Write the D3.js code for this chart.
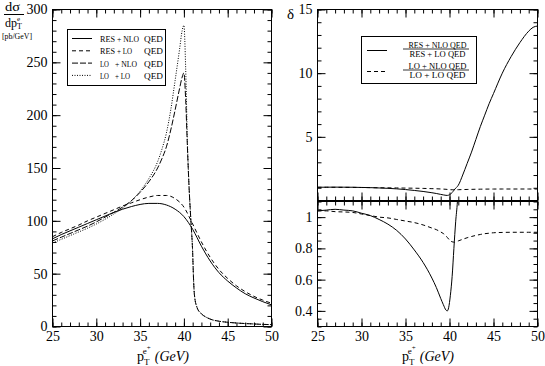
<!DOCTYPE html>
<html><head><meta charset="utf-8">
<script src="https://cdn.jsdelivr.net/npm/d3@7"></script>
<style>body{margin:0;background:#fff}svg{display:block}svg text{font-family:"Liberation Serif","Times New Roman",Times,"DejaVu Serif",serif !important;fill:#000}</style>
</head><body><svg id="c" width="545" height="366"></svg>
<script>
// ---- data ----
const ptRes = [25,26,27,28,29,30,31,32,33,34,35,36,37,38,39,40,41,42,43,44,45,46,47,48,49,50];
const resNLO = [83,87,90.5,94,97.5,101,104.5,108,111,113.5,115.5,116.5,116.5,115,111,104,92,76,62,51,43,36.5,31,27,23.5,20.5];
const resLO  = [85,89,92.5,96,100,103.5,107,110.5,114,117,120,122.5,124,124,121,113,97,80,65.5,54,45.5,38.5,33,28.5,25,22];
const ptLO = [25,26,27,28,29,30,31,32,33,34,35,36,37,37.5,38,38.5,39,39.5,39.8,40.0,40.2,40.4,40.6,40.8,41.0,41.1,41.2,41.5,42,42.5,43,44,45,46,47,48,49,50];
const loLO  = [79,82.5,86,89.5,93,97,101.5,106.5,112,119,128,140,156,168,183,205,233,262,280,285,245,175,130,100,70,45,30,18,12,9,7,5,4,3.3,2.8,2.4,2,1.8];
const loNLO = [81,84.5,88,91.5,95,99,103.5,108,113,119,127,137,150,159,170,186,205,225,236,240,215,170,130,100,70,45,30,18,12,9,7,5,4,3.3,2.8,2.4,2,1.8];
const ptRatio = [25,26,27,28,29,30,31,32,33,34,35,36,37,38,38.5,39,39.3,39.6,39.75,39.9,40.1,40.3,40.5,40.7,40.9,41,41.5,42,42.5,43,43.5,44,44.5,45,46,47,48,49,49.5,50];
const deltaRes = [1.04,1.045,1.05,1.045,1.04,1.025,1.01,0.985,0.955,0.915,0.86,0.79,0.71,0.61,0.55,0.48,0.44,0.405,0.40,0.42,0.5,0.62,0.8,0.97,1.1,1.2,2.0,2.9,3.8,4.8,5.8,6.7,7.6,8.4,10.0,11.3,12.4,13.3,13.6,13.7];
const deltaLO = [1.04,1.04,1.035,1.033,1.03,1.02,1.01,1.0,0.995,0.985,0.975,0.965,0.95,0.93,0.92,0.905,0.895,0.88,0.87,0.86,0.848,0.842,0.84,0.842,0.846,0.848,0.858,0.868,0.876,0.883,0.889,0.894,0.897,0.9,0.902,0.903,0.903,0.903,0.903,0.903];
const xMajor = [25,30,35,40,45,50];
const yLeftMajor = [0,50,100,150,200,250,300];
const yTopMajor = [5,10,15];
const yLowMajor = [0.4,0.6,0.8,1.0];
const legendLeft = [["RES","+ NLO"],["RES","+ LO"],["LO","+ NLO"],["LO","+ LO"]];
const legendRight = [["RES + NLO QED","RES + LO QED"],["LO + NLO QED","LO + LO QED"]];

// ---- drawing ----
const SERIF = '"Liberation Serif","Times New Roman",Times,"DejaVu Serif",serif';
const svg = d3.select("#c").attr("font-family", SERIF);
const FS = 14;
const range = (a,b,s)=>d3.range(a,b+s/2,s).map(v=>+v.toFixed(4));

function panel(id, x, y, xMaj, xMin, yMaj, yMin, opts){
  const [x0,x1] = x.range(); const [y0,y1] = [y.range()[1], y.range()[0]];
  const g = svg.append("g");
  svg.append("clipPath").attr("id",id).append("rect").attr("x",x0).attr("y",y0).attr("width",x1-x0).attr("height",y1-y0);
  const fmt = d3.format("~g");
  const mk = (ax, vals, size, labels) => ax.tickValues(vals).tickSize(-size).tickPadding(5).tickFormat(labels ? fmt : "");
  const st = s => s.attr("font-family", SERIF).attr("font-size", FS)
    .call(a=>a.select(".domain").remove()).call(a=>a.selectAll("line").attr("stroke","#000"));
  g.append("g").attr("transform",`translate(0,${y1})`).call(mk(d3.axisBottom(x), xMaj, 8, opts.xLabels)).call(st);
  g.append("g").attr("transform",`translate(0,${y1})`).call(mk(d3.axisBottom(x), xMin, 4, false)).call(st);
  g.append("g").attr("transform",`translate(0,${y0})`).call(mk(d3.axisTop(x), xMaj, 8, false)).call(st);
  g.append("g").attr("transform",`translate(0,${y0})`).call(mk(d3.axisTop(x), xMin, 4, false)).call(st);
  g.append("g").attr("transform",`translate(${x0},0)`).call(mk(d3.axisLeft(y), yMaj, 8, true)).call(st);
  g.append("g").attr("transform",`translate(${x0},0)`).call(mk(d3.axisLeft(y), yMin, 4, false)).call(st);
  g.append("g").attr("transform",`translate(${x1},0)`).call(mk(d3.axisRight(y), yMaj, 8, false)).call(st);
  g.append("g").attr("transform",`translate(${x1},0)`).call(mk(d3.axisRight(y), yMin, 4, false)).call(st);
  g.append("rect").attr("x",x0).attr("y",y0).attr("width",x1-x0).attr("height",y1-y0).attr("fill","none").attr("stroke","#000").attr("stroke-width",1);
  return g;
}
function curve(xs, ys, x, y, clip, dash){
  const line = d3.line().x((d,i)=>x(xs[i])).y(d=>y(d)).curve(d3.curveMonotoneX);
  svg.append("path").attr("d",line(ys)).attr("fill","none").attr("stroke","#000").attr("stroke-width",1)
    .attr("stroke-dasharray",dash||null).attr("clip-path",`url(#${clip})`);
}
function fitText(x, y, str, size, len, anchor){
  return svg.append("text").attr("x",x).attr("y",y).attr("text-anchor",anchor||"start")
    .style("font-size",size+"px").attr("textLength",len).attr("lengthAdjust","spacingAndGlyphs").text(str);
}

// left panel
const xL = d3.scaleLinear().domain([25,50]).range([52.5,271.5]);
const yL = d3.scaleLinear().domain([0,300]).range([326.5,9.5]);
panel("cl", xL, yL, xMajor, range(25,50,1), yLeftMajor, range(0,300,10), {xLabels:true});
const dashes = [null,"4,3","6,2","1,1.5"];
curve(ptRes, resNLO, xL, yL, "cl", dashes[0]);
curve(ptRes, resLO, xL, yL, "cl", dashes[1]);
curve(ptLO, loNLO, xL, yL, "cl", dashes[2]);
curve(ptLO, loLO, xL, yL, "cl", dashes[3]);

// right upper panel
const xR = d3.scaleLinear().domain([25,50]).range([317.5,537.5]);
const yU = d3.scaleLinear().domain([0,15]).range([200.5,9.5]);
panel("cu", xR, yU, xMajor, range(25,50,1), yTopMajor, range(0,15,1), {xLabels:false});
curve(ptRatio, deltaRes, xR, yU, "cu", null);
curve(ptRatio, deltaLO, xR, yU, "cu", "4,3");

// right lower panel
const yD = d3.scaleLinear().domain([0.3,1.1]).range([326.5,201.5]);
panel("cd", xR, yD, xMajor, range(25,50,1), yLowMajor, range(0.3,1.1,0.05), {xLabels:true});
curve(ptRatio, deltaRes, xR, yD, "cd", null);
curve(ptRatio, deltaLO, xR, yD, "cd", "4,3");

// axis titles
function xTitle(cx){
  const t = svg.append("text").attr("x",cx).attr("y",361).attr("text-anchor","middle").style("font-size","14px");
  t.append("tspan").text("p");
  t.append("tspan").attr("dy",4).style("font-size","9px").text("T");
  t.append("tspan").attr("dx",-6).attr("dy",-11).style("font-size","9px").text("e");
  t.append("tspan").attr("dy",-4).style("font-size","7px").text("+");
  t.append("tspan").attr("dy",11).attr("dx",4).style("font-style","italic").text("(GeV)");
}
xTitle(163);
xTitle(428);

// left y title
fitText(5, 11, "dσ", 12, 15);
svg.append("line").attr("x1",4).attr("x2",24).attr("y1",14.5).attr("y2",14.5).attr("stroke","#000");
const yt = svg.append("text").attr("x",5).attr("y",27).style("font-size","12px");
yt.append("tspan").text("dp");
yt.append("tspan").attr("dy",2).style("font-size","8px").text("T");
yt.append("tspan").attr("dx",-5).attr("dy",-8).style("font-size","7px").text("e");
fitText(2, 39, "[pb/GeV]", 8, 30);
svg.append("text").attr("x",287).attr("y",19).style("font-size","15px").text("δ");

// left legend
svg.append("rect").attr("x",67.5).attr("y",29.5).attr("width",98).attr("height",56).attr("fill","#fff").attr("stroke","#000");
legendLeft.forEach((d,i)=>{
  const yy = 38.5 + i*12.3;
  svg.append("line").attr("x1",72).attr("x2",92).attr("y1",yy).attr("y2",yy).attr("stroke","#000").attr("stroke-dasharray",dashes[i]);
  fitText(100, yy+3.5, d[0], 9, d[0]==="RES"?15:9);
  fitText(d[0]==="RES"?117:115, yy+3.5, d[1], 9, d[1]==="+ NLO"?22:15);
  fitText(163, yy+3.5, "QED", 9, 19, "end");
});

// right legend
svg.append("rect").attr("x",361.5).attr("y",36.5).attr("width",115).attr("height",47).attr("fill","#fff").attr("stroke","#000");
legendRight.forEach((d,i)=>{
  const yy = 50.5 + i*21;
  svg.append("line").attr("x1",367).attr("x2",387).attr("y1",yy).attr("y2",yy).attr("stroke","#000").attr("stroke-dasharray",i?"4,3":null);
  fitText(437.5, yy-3, d[0], 8, 58, "middle");
  svg.append("line").attr("x1",403).attr("x2",469).attr("y1",yy-1.5).attr("y2",yy-1.5).attr("stroke","#000").attr("stroke-width",0.8);
  fitText(437.5, yy+6.5, d[1], 8, 56, "middle");
});
</script></body></html>
